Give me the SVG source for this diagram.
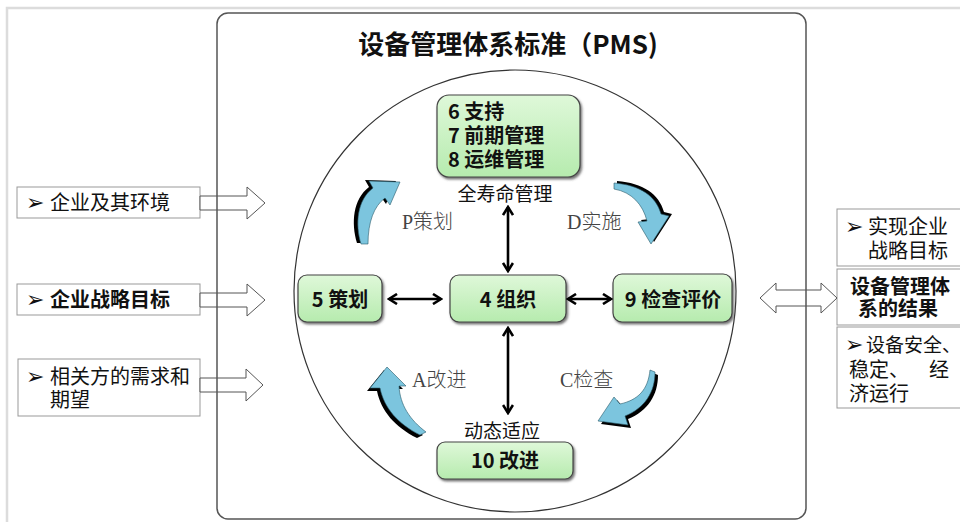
<svg xmlns="http://www.w3.org/2000/svg" width="960" height="522" viewBox="0 0 960 522">
<style>
text{font-family:"Noto Sans CJK SC","Noto Sans",sans-serif;fill:#111}
.box{fill:url(#g);stroke:#444;stroke-width:1.2;filter:url(#sh)}
.bt{font-size:20px;font-weight:bold}
.lbl{font-size:19px}
.pd{font-family:"Liberation Serif","Noto Sans CJK SC",serif;font-size:20px;fill:#444;font-weight:300}
.tb{fill:#fff;stroke:#999;stroke-width:1}
.ha{fill:#fff;stroke:#555;stroke-width:1}
.st{font-size:20px}
.bul{font-family:"DejaVu Sans",sans-serif;font-size:22px}
.con{stroke:#000;stroke-width:2.6;fill:none;marker-end:url(#chev);marker-start:url(#chev)}
.cb{fill:#7cc5de;stroke:#2a5a6a;stroke-width:0.6}
.cs{fill:#000}
</style>
<defs>
<linearGradient id="g" x1="0" y1="0" x2="0" y2="1">
<stop offset="0" stop-color="#dff8d9"/>
<stop offset="1" stop-color="#b6ebae"/>
</linearGradient>
<filter id="sh" x="-10%" y="-10%" width="125%" height="130%">
<feDropShadow dx="1.5" dy="2" stdDeviation="1.2" flood-color="#555" flood-opacity="0.8"/>
</filter>
<marker id="chev" viewBox="0 0 12 12" refX="10" refY="6" markerWidth="12" markerHeight="12" markerUnits="userSpaceOnUse" orient="auto-start-reverse">
<path d="M2,1 L10,6 L2,11" fill="none" stroke="#000" stroke-width="2.6"/>
</marker>
</defs>
<rect x="0" y="0" width="960" height="522" fill="#fff"/>
<path d="M7,522 V8 H960" fill="none" stroke="#dcdcdc" stroke-width="2.5"/>
<g id="frame">
<rect x="217" y="13" width="589" height="506" rx="11" fill="#fff" stroke="none"/>
<text x="508" y="54" text-anchor="middle" style="font-size:26px;font-weight:bold">设备管理体系标准（PMS)</text>
<circle cx="515" cy="291" r="221" fill="none" stroke="#333" stroke-width="1.2"/>
</g>
<g id="inputs">
<g id="in1"><rect class="tb" x="17" y="187" width="183" height="31"/><text class="st" x="26" y="210"><tspan class="bul">➢</tspan><tspan x="50">企业及其环境</tspan></text></g>
<g id="in2"><rect class="tb" x="17" y="284" width="183" height="31"/><text class="st" x="26" y="307" font-weight="bold"><tspan class="bul">➢</tspan><tspan x="50">企业战略目标</tspan></text></g>
<g id="in3"><rect class="tb" x="18" y="359" width="182" height="57"/><text class="st" x="26" y="384"><tspan class="bul">➢</tspan><tspan x="50">相关方的需求和</tspan><tspan x="50" y="407">期望</tspan></text></g>
</g>
<g id="outputs">
<g id="out1"><rect class="tb" x="837" y="209" width="130" height="57"/><text class="st" x="845" y="234"><tspan class="bul">➢</tspan><tspan x="868">实现企业</tspan><tspan x="868" y="258">战略目标</tspan></text></g>
<g id="out2"><rect class="tb" x="837" y="269" width="130" height="56"/><text class="st" x="900" y="294" text-anchor="middle" font-weight="bold">设备管理体<tspan x="898" y="316">系的结果</tspan></text></g>
<g id="out3"><rect class="tb" x="837" y="327" width="130" height="81"/><text x="845" y="352" style="font-size:19px"><tspan class="bul">➢</tspan><tspan x="866">设备安全、</tspan><tspan x="849" y="377" style="font-size:20px">稳定、</tspan><tspan x="929" y="377" style="font-size:20px">经</tspan><tspan x="849" y="401" style="font-size:20px">济运行</tspan></text></g>
</g>
<g id="hollow-arrows">
<polygon class="ha" points="200,196 247,196 247,187 265,203 247,219 247,210 200,210"/>
<polygon class="ha" points="200,293 247,293 247,284 265,300 247,316 247,307 200,307"/>
<polygon class="ha" points="200,378 246,378 246,369 263,385 246,401 246,392 200,392"/>
<polygon class="ha" points="760,298 776,283 776,290 821,290 821,283 837,298 821,313 821,306 776,306 776,313"/>
</g>
<rect x="217" y="13" width="589" height="506" rx="11" fill="none" stroke="#555" stroke-width="1.5"/>
<g id="n-support">
<rect class="box" x="437" y="95" width="143" height="82" rx="12"/>
<text class="bt" x="448" y="119">6 支持</text>
<text class="bt" x="448" y="143">7 前期管理</text>
<text class="bt" x="448" y="167">8 运维管理</text>
</g>
<g id="n-plan"><rect class="box" x="298" y="275" width="84" height="47" rx="9"/><text class="bt" x="340" y="307" text-anchor="middle">5 策划</text></g>
<g id="n-org"><rect class="box" x="450" y="275" width="116" height="47" rx="9"/><text class="bt" x="508" y="307" text-anchor="middle">4 组织</text></g>
<g id="n-eval"><rect class="box" x="613" y="274" width="119" height="48" rx="9"/><text class="bt" x="673" y="307" text-anchor="middle">9 检查评价</text></g>
<g id="n-improve"><rect class="box" x="437" y="442" width="136" height="37" rx="8"/><text class="bt" x="505" y="468" text-anchor="middle">10 改进</text></g>
<g id="labels">
<text class="lbl" x="505" y="201" text-anchor="middle">全寿命管理</text>
<text class="lbl" x="502" y="438" text-anchor="middle">动态适应</text>
<text class="pd" x="402" y="229">P策划</text>
<text class="pd" x="567" y="229">D实施</text>
<text class="pd" x="412" y="387">A改进</text>
<text class="pd" x="560" y="387">C检查</text>
</g>
<g id="cycle-arrows">
<g id="arrP">
<path class="cs" transform="translate(-4,-1)" d="M361,244 C355,224 357,200 373,188 L369,181 L400,182 L390,205 L385,198 C374,206 368,222 368,244 Z"/>
<path class="cb" d="M361,244 C355,224 357,200 373,188 L369,181 L400,182 L390,205 L385,198 C374,206 368,222 368,244 Z"/>
</g>
<g id="arrD">
<path class="cs" transform="translate(3,-2)" d="M614,183 C640,185 656,196 661,214 L669,216 L651,244 L638,222 L647,221 C643,205 632,192 614,189 Z"/>
<path class="cb" d="M614,183 C640,185 656,196 661,214 L669,216 L651,244 L638,222 L647,221 C643,205 632,192 614,189 Z"/>
</g>
<g id="arrC">
<path class="cs" transform="translate(3,3)" d="M650,370 C648,390 638,400 620,404 L614,397 L598,421 L628,425 L625,416 C645,408 655,392 655,372 Z"/>
<path class="cb" d="M650,370 C648,390 638,400 620,404 L614,397 L598,421 L628,425 L625,416 C645,408 655,392 655,372 Z"/>
</g>
<g id="arrA">
<path class="cs" transform="translate(-3,3)" d="M426,432 C410,420 400,405 399,386 L406,386 L387,367 L370,388 L380,388 C384,408 398,424 420,435 Z"/>
<path class="cb" d="M426,432 C410,420 400,405 399,386 L406,386 L387,367 L370,388 L380,388 C384,408 398,424 420,435 Z"/>
</g>
</g>
<g id="connectors">
<line class="con" x1="508" y1="207" x2="508" y2="271"/>
<line class="con" x1="508" y1="328" x2="508" y2="413"/>
<line class="con" x1="389" y1="299" x2="441" y2="299"/>
<line class="con" x1="568" y1="299" x2="611" y2="299"/>
</g>
</svg>
